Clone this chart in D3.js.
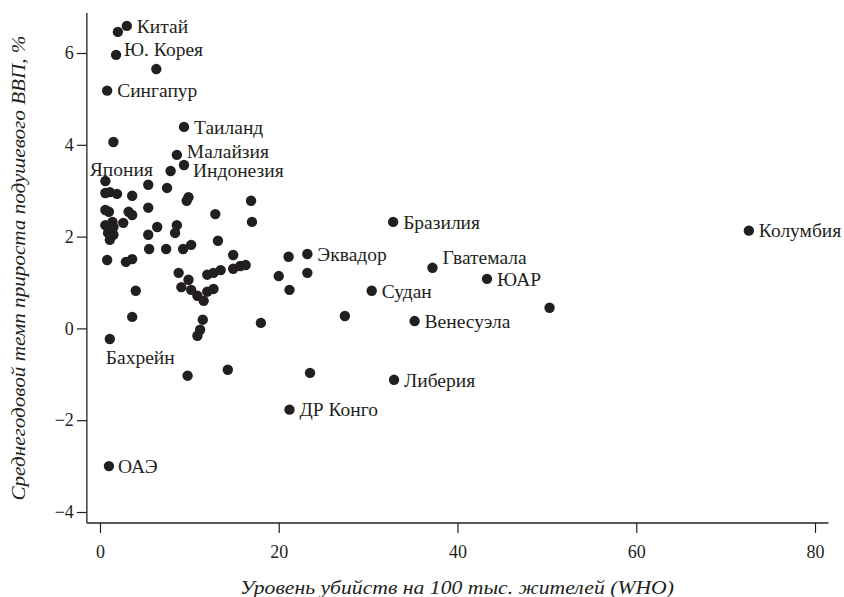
<!DOCTYPE html>
<html><head><meta charset="utf-8">
<script src="https://cdn.jsdelivr.net/npm/d3@7"></script>
<style>
body{margin:0;background:#fff;}
svg{display:block;}
text{font-family:"Liberation Serif","DejaVu Serif",serif;fill:#231f20;}
</style></head>
<body><svg id="c" width="844" height="597"></svg>
<script>
// Murder rate per 100k (WHO) and average annual GDP-per-capita growth, %
const murderRate = [3.0,2.0,1.8,6.3,0.8,9.4,1.5,8.6,9.4,7.9,0.6,5.4,7.5,0.6,1.1,1.9,3.6,9.9,9.7,5.4,0.6,1.0,3.2,3.6,12.9,0.6,1.4,1.5,2.6,0.9,1.5,1.1,6.4,5.4,8.6,8.4,13.2,5.5,7.4,9.3,10.2,0.8,2.9,3.6,4.0,8.8,9.1,9.9,12.0,12.7,13.5,12.0,12.7,10.2,10.9,11.6,17.0,16.9,14.9,14.9,15.7,16.3,21.1,23.2,20.0,23.2,21.2,3.6,1.1,11.5,11.2,10.9,18.0,9.8,14.3,23.5,21.2,1.0,32.8,37.2,43.3,30.4,50.3,27.4,35.2,32.9,72.6];
const gdpGrowth = [6.59,6.46,5.96,5.65,5.18,4.39,4.06,3.78,3.56,3.43,3.21,3.13,3.06,2.95,2.97,2.93,2.89,2.86,2.78,2.63,2.58,2.54,2.54,2.47,2.49,2.25,2.32,2.21,2.30,2.08,2.04,1.93,2.21,2.04,2.25,2.08,1.91,1.73,1.73,1.73,1.82,1.49,1.45,1.51,0.82,1.21,0.90,1.06,1.17,1.21,1.27,0.80,0.86,0.84,0.71,0.60,2.32,2.78,1.60,1.30,1.36,1.38,1.56,1.62,1.14,1.21,0.84,0.25,-0.23,0.19,-0.03,-0.16,0.12,-1.03,-0.90,-0.97,-1.77,-3.00,2.32,1.32,1.08,0.82,0.45,0.27,0.16,-1.12,2.13];
const labelNames = ["Китай","Ю. Корея","Сингапур","Таиланд","Малайзия","Индонезия","Япония","Эквадор","Бахрейн","ДР Конго","ОАЭ","Бразилия","Гватемала","ЮАР","Судан","Венесуэла","Либерия","Колумбия"];
const labelPoint = [0,2,4,5,7,8,10,63,68,76,77,78,79,80,81,84,85,86];
const xTicks = [0,20,40,60,80];
const yTicks = [-4,-2,0,2,4,6];
const xTitle = "Уровень убийств на 100 тыс. жителей (WHO)";
const yTitle = "Среднегодовой темп прироста подушевого ВВП, %";

// label placement (style)
const labelPos = {
  "Ю. Корея":{dx:8,dy:-6,a:"start"},
  "Малайзия":{dx:10,dy:-4,a:"start"},
  "Индонезия":{dx:9,dy:5,a:"start"},
  "Япония":{dx:16,dy:-12,a:"middle"},
  "Бахрейн":{dx:-4,dy:18,a:"start"},
  "Гватемала":{dx:10,dy:-11,a:"start"},
  "ОАЭ":{dx:9,dy:0,a:"start"}
};

const svg = d3.select("#c");
const x = d3.scaleLinear().domain([0,80]).range([100,815]);
const y = d3.scaleLinear().domain([-4,6]).range([512,53]);
const ink = "#231f20";

// spines
svg.append("line").attr("x1",x(-1.47)).attr("x2",x(81.5)).attr("y1",y(-4.24)).attr("y2",y(-4.24))
  .attr("stroke",ink).attr("stroke-width",1.3);
svg.append("line").attr("x1",x(-1.47)).attr("x2",x(-1.47)).attr("y1",y(-4.24)).attr("y2",y(6.87))
  .attr("stroke",ink).attr("stroke-width",1.3);

const xa = svg.append("g").attr("transform",`translate(0,${y(-4.24)})`)
  .call(d3.axisBottom(x).tickValues(xTicks).tickSize(10).tickPadding(12).tickFormat(d3.format("d")));
const ya = svg.append("g").attr("transform",`translate(${x(-1.47)},0)`)
  .call(d3.axisLeft(y).tickValues(yTicks).tickSize(10).tickPadding(3).tickFormat(d=> d<0 ? "−"+Math.abs(d) : d));
[xa,ya].forEach(g=>{
  g.select(".domain").remove();
  g.selectAll(".tick line").attr("stroke",ink).attr("stroke-width",1.2);
  g.selectAll(".tick text").attr("font-family","Liberation Serif, serif").attr("font-size",18).attr("fill",ink);
});

const data = murderRate.map((m,i)=>({x:m,y:gdpGrowth[i]}));
svg.append("g").selectAll("circle").data(data).join("circle")
  .attr("cx",d=>x(d.x)).attr("cy",d=>y(d.y)).attr("r",5.2).attr("fill",ink);

svg.append("g").selectAll("text").data(labelNames).join("text")
  .each(function(n,i){
    const p = data[labelPoint[i]];
    const o = labelPos[n] || {dx:10,dy:0,a:"start"};
    d3.select(this).attr("x",x(p.x)+o.dx).attr("y",y(p.y)+o.dy)
      .attr("dy","0.35em").attr("text-anchor",o.a).attr("font-size",19.5).text(n);
  });

svg.append("text").attr("x",457).attr("y",587).attr("dy","0.35em").attr("text-anchor","middle")
  .attr("font-style","italic").attr("font-size",19).attr("textLength",434).attr("lengthAdjust","spacingAndGlyphs").text(xTitle);
svg.append("text").attr("transform",`translate(18,${(y(-4.24)+y(6.87))/2}) rotate(-90)`).attr("dy","0.35em")
  .attr("text-anchor","middle").attr("font-style","italic").attr("font-size",19)
  .attr("textLength",465).attr("lengthAdjust","spacingAndGlyphs").text(yTitle);
</script></body></html>
